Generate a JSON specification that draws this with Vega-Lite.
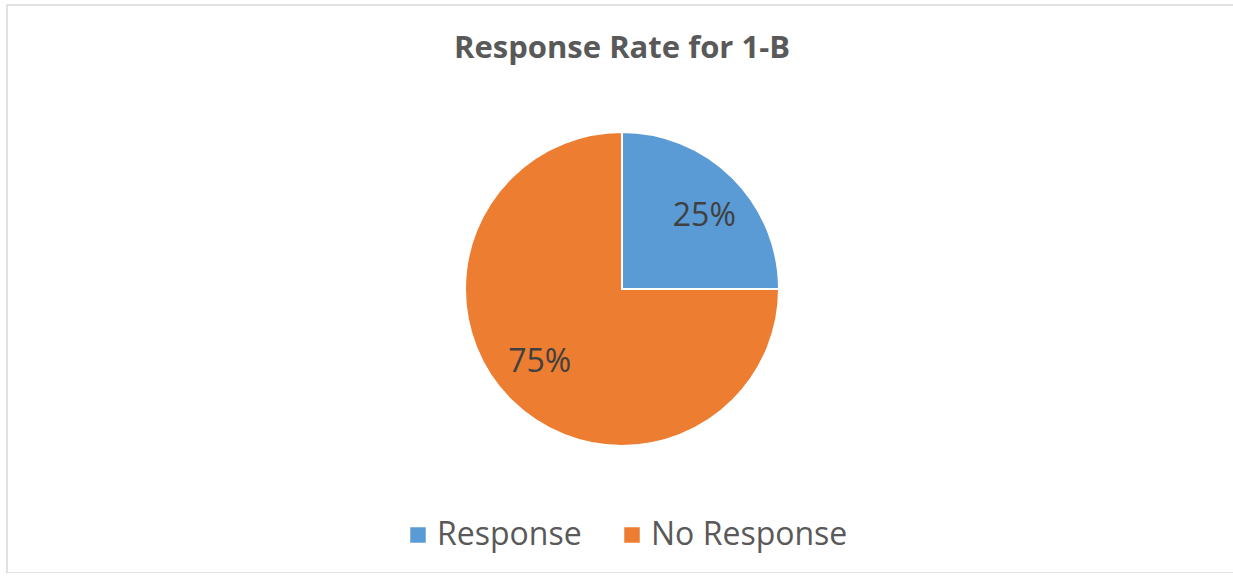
{
  "$schema": "https://vega.github.io/schema/vega-lite/v6.json",
  "autosize": "none",
  "width": 1230,
  "height": 568,
  "padding": {"left": 7, "top": 5, "right": 0, "bottom": 0},
  "background": "white",
  "view": {"stroke": "#d9d9d9", "strokeWidth": 1.5},
  "title": {
    "text": "Response Rate for 1-B",
    "font": "Open Sans",
    "fontSize": 31,
    "fontWeight": "bold",
    "color": "#595959",
    "anchor": "middle",
    "offset": -60
  },
  "data": {
    "values": [
      {"category": "Response", "value": 25, "label": "25%"},
      {"category": "No Response", "value": 75, "label": "75%"}
    ]
  },
  "encoding": {
    "theta": {"field": "value", "type": "quantitative", "stack": true},
    "order": {"field": "value", "type": "quantitative", "sort": "ascending"},
    "color": {
      "field": "category",
      "type": "nominal",
      "scale": {"domain": ["Response", "No Response"], "range": ["#5B9BD5", "#ED7D31"]},
      "legend": {
        "title": null,
        "orient": "none",
        "legendX": 395,
        "legendY": 514,
        "direction": "horizontal",
        "symbolType": "square",
        "symbolSize": 240,
        "symbolStrokeWidth": 0,
        "labelFont": "Open Sans",
        "labelFontSize": 32,
        "labelColor": "#595959",
        "labelOffset": 3,
        "labelLimit": 0,
        "columnPadding": 34,
        "padding": 0
      }
    }
  },
  "layer": [
    {"mark": {"type": "arc", "outerRadius": 157, "stroke": "white", "strokeWidth": 2}},
    {
      "mark": {"type": "text", "radius": 110, "thetaOffset": 0.06, "font": "Open Sans", "fontSize": 32, "fill": "#404040"},
      "encoding": {"text": {"field": "label"}, "color": {"value": "#404040"}}
    }
  ]
}
